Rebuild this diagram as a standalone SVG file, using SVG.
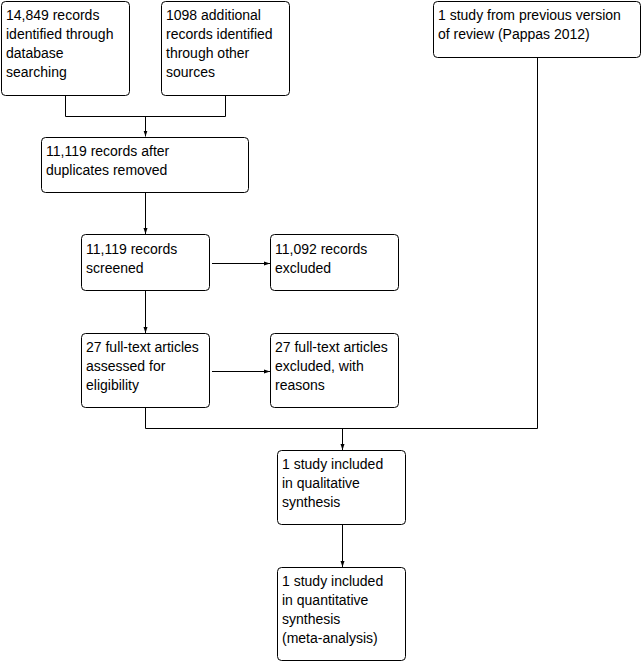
<svg xmlns="http://www.w3.org/2000/svg" width="642" height="662" viewBox="0 0 642 662">
<defs>
<marker id="ah" viewBox="0 0 6 6" refX="6" refY="3" markerWidth="6" markerHeight="6" markerUnits="userSpaceOnUse" orient="auto">
<path d="M0,1 L6,3 L0,5 Z" fill="#000"/>
</marker>
<style>
rect{fill:#fff;stroke:#000;stroke-width:1}
text{font-family:"Liberation Sans",Arial,sans-serif;font-size:14px;fill:#000}
.c{fill:none;stroke:#000;stroke-width:1}
</style>
</defs>
<rect x="0" y="0" width="642" height="662" style="stroke:none"/>
<g id="connectors">
<path class="c" d="M65.5,95 V116.5 H225.5 V95"/>
<path class="c" d="M145.5,116.5 V136.5" marker-end="url(#ah)"/>
<path class="c" d="M145.5,193 V234" marker-end="url(#ah)"/>
<path class="c" d="M212,263.5 H270" marker-end="url(#ah)"/>
<path class="c" d="M145.5,291 V333" marker-end="url(#ah)"/>
<path class="c" d="M212,371.5 H270" marker-end="url(#ah)"/>
<path class="c" d="M145.5,408 V428.5 H537.5 V57"/>
<path class="c" d="M342.5,428.5 V450" marker-end="url(#ah)"/>
<path class="c" d="M342.5,525 V567" marker-end="url(#ah)"/>
</g>
<g id="n1"><rect x="1.5" y="1.5" width="128" height="94" rx="4"/>
<text x="6" y="20">14,849 records</text><text x="6" y="39">identified through</text><text x="6" y="58">database</text><text x="6" y="77">searching</text></g>
<g id="n2"><rect x="161.5" y="1.5" width="128" height="94" rx="4"/>
<text x="166" y="20">1098 additional</text><text x="166" y="39">records identified</text><text x="166" y="58">through other</text><text x="166" y="77">sources</text></g>
<g id="n3"><rect x="433.5" y="1.5" width="207" height="56" rx="4"/>
<text x="438" y="20">1 study from previous version</text><text x="438" y="39">of review (Pappas 2012)</text></g>
<g id="n4"><rect x="41.5" y="137.5" width="207" height="55" rx="4"/>
<text x="46" y="156">11,119 records after</text><text x="46" y="175">duplicates removed</text></g>
<g id="n5"><rect x="81.5" y="234.5" width="128" height="56" rx="4"/>
<text x="86" y="254">11,119 records</text><text x="86" y="273">screened</text></g>
<g id="n6"><rect x="270.5" y="234.5" width="128" height="56" rx="4"/>
<text x="275" y="254">11,092 records</text><text x="275" y="273">excluded</text></g>
<g id="n7"><rect x="81.5" y="333.5" width="128" height="74" rx="4"/>
<text x="86" y="352">27 full-text articles</text><text x="86" y="371">assessed for</text><text x="86" y="390">eligibility</text></g>
<g id="n8"><rect x="270.5" y="333.5" width="128" height="74" rx="4"/>
<text x="275" y="352">27 full-text articles</text><text x="275" y="371">excluded, with</text><text x="275" y="390">reasons</text></g>
<g id="n9"><rect x="277.5" y="450.5" width="128" height="74" rx="4"/>
<text x="282" y="469">1 study included</text><text x="282" y="488">in qualitative</text><text x="282" y="507">synthesis</text></g>
<g id="n10"><rect x="277.5" y="567.5" width="128" height="93" rx="4"/>
<text x="282" y="586">1 study included</text><text x="282" y="605">in quantitative</text><text x="282" y="624">synthesis</text><text x="282" y="643">(meta-analysis)</text></g>
</svg>
